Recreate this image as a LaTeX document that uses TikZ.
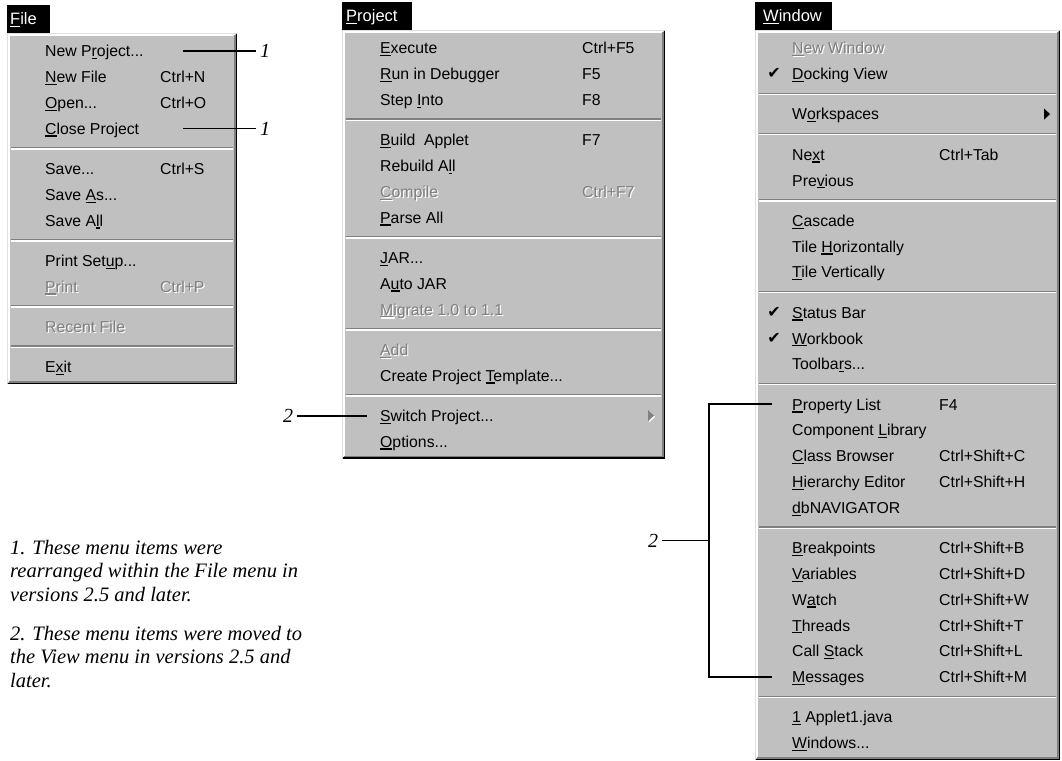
\documentclass[tikz,border=0pt]{standalone}
\usepackage{fontspec}
\setmainfont{Liberation Sans}
\newfontfamily\notefont{Liberation Serif}
\newfontfamily\symfont{DejaVu Sans}
\newcommand{\mnem}[1]{\setbox0\hbox{#1}\rlap{\rule[-2.4pt]{\wd0}{1.2pt}}#1}
\definecolor{menugray}{HTML}{C0C0C0}
\definecolor{shadowgray}{HTML}{808080}
\definecolor{lightedge}{HTML}{DFDFDF}
\tikzset{
  item/.style={anchor=base west, inner sep=0pt, yshift=-5.8pt, font=\fontsize{15.8}{18}\selectfont},
  dimitem/.style={item, text=shadowgray},
  dimshadow/.style={item, text=white, xshift=1.2pt, yshift=-1.2pt},
  titletext/.style={item, text=white, font=\fontsize{16.5}{18}\selectfont},
  check/.style={inner sep=0pt, font=\symfont\fontsize{16}{16}\selectfont},
  calloutnum/.style={inner sep=0pt, inner xsep=4pt, font=\notefont\itshape\fontsize{20}{20}\selectfont},
  note/.style={anchor=base west, inner sep=0pt, font=\notefont\itshape\fontsize{20.5}{23}\selectfont},
  callout/.style={line width=1.8pt},
  edgelight/.style={draw=lightedge, line width=1.3pt},
  edgewhite/.style={draw=white, line width=1.3pt},
  edgedark/.style={draw=black, line width=1.3pt},
  edgemid/.style={draw=shadowgray, line width=1.3pt},
  sepdark/.style={draw=shadowgray, line width=1.3pt},
  seplight/.style={draw=white, line width=1.3pt}
}
\begin{document}
\begin{tikzpicture}[x=1pt, y=-1pt]
  \useasboundingbox (0,0) rectangle (1062,760);

  % File menu
  \fill (7,5) rectangle (50,33);
  \node[titletext] (filetitle) at (10,19) {\mnem{F}ile};
  \fill[menugray] (7,33) rectangle (237,384);
  \draw[edgelight] (7.65,383.35) |- (236.35,33.65);
  \draw[edgewhite] (8.95,382.05) |- (235.05,34.95);
  \draw[edgedark] (7.65,383.35) -| (236.35,33.65);
  \draw[edgemid] (8.95,382.05) -| (235.05,34.95);
  \node[item] (fnewproj) at (45,51) {New P\mnem{r}oject...};
  \node[item] (fnewfile) at (45,76.8) {\mnem{N}ew File};
  \node[item] (fnewfilekey) at (160,76.8) {Ctrl+N};
  \node[item] (fopen) at (45,102.6) {\mnem{O}pen...};
  \node[item] (fopenkey) at (160,102.6) {Ctrl+O};
  \node[item] (fclose) at (45,128.4) {\mnem{C}lose Project};
  \draw[sepdark] (11,147.8) -- (233,147.8);
  \draw[seplight] (11,149.1) -- (233,149.1);
  \node[item] (fsave) at (45,168.7) {Save...};
  \node[item] (fsavekey) at (160,168.7) {Ctrl+S};
  \node[item] (fsaveas) at (45,194.5) {Save \mnem{A}s...};
  \node[item] (fsaveall) at (45,220.3) {Save A\mnem{l}l};
  \draw[sepdark] (11,239.7) -- (233,239.7);
  \draw[seplight] (11,241) -- (233,241);
  \node[item] (fsetup) at (45,260.6) {Print Set\mnem{u}p...};
  \node[dimshadow] (fprints) at (45,286.4) {\mnem{P}rint};
  \node[dimitem] (fprint) at (45,286.4) {\mnem{P}rint};
  \node[dimshadow] (fprintkeys) at (160,286.4) {Ctrl+P};
  \node[dimitem] (fprintkey) at (160,286.4) {Ctrl+P};
  \draw[sepdark] (11,305.8) -- (233,305.8);
  \draw[seplight] (11,307.1) -- (233,307.1);
  \node[dimshadow] (frecents) at (45,326.7) {Recent File};
  \node[dimitem] (frecent) at (45,326.7) {Recent File};
  \draw[sepdark] (11,346.1) -- (233,346.1);
  \draw[seplight] (11,347.4) -- (233,347.4);
  \node[item] (fexit) at (45,367) {E\mnem{x}it};

  % Project menu
  \fill (342,2) rectangle (412,30);
  \node[titletext] (projtitle) at (346,16) {\mnem{P}roject};
  \fill[menugray] (342,30) rectangle (665,458.5);
  \draw[edgelight] (342.65,457.85) |- (664.35,30.65);
  \draw[edgewhite] (343.95,456.55) |- (663.05,31.95);
  \draw[edgedark] (342.65,457.85) -| (664.35,30.65);
  \draw[edgemid] (343.95,456.55) -| (663.05,31.95);
  \node[item] (pexec) at (380,48) {\mnem{E}xecute};
  \node[item] (pexeckey) at (582,48) {Ctrl+F5};
  \node[item] (prun) at (380,73.8) {\mnem{R}un in Debugger};
  \node[item] (prunkey) at (582,73.8) {F5};
  \node[item] (pstep) at (380,99.6) {Step \mnem{I}nto};
  \node[item] (pstepkey) at (582,99.6) {F8};
  \draw[sepdark] (346,119) -- (661,119);
  \draw[seplight] (346,120.3) -- (661,120.3);
  \node[item] (pbuild) at (380,139.9) {\mnem{B}uild~~Applet};
  \node[item] (pbuildkey) at (582,139.9) {F7};
  \node[item] (prebuild) at (380,165.7) {Rebuild A\mnem{l}l};
  \node[dimshadow] (pcompiles) at (380,191.5) {\mnem{C}ompile};
  \node[dimitem] (pcompile) at (380,191.5) {\mnem{C}ompile};
  \node[dimshadow] (pcompilekeys) at (582,191.5) {Ctrl+F7};
  \node[dimitem] (pcompilekey) at (582,191.5) {Ctrl+F7};
  \node[item] (pparse) at (380,217.3) {\mnem{P}arse All};
  \draw[sepdark] (346,236.7) -- (661,236.7);
  \draw[seplight] (346,238) -- (661,238);
  \node[item] (pjar) at (380,257.6) {\mnem{J}AR...};
  \node[item] (pautojar) at (380,283.4) {A\mnem{u}to JAR};
  \node[dimshadow] (pmigrates) at (380,309.2) {\mnem{M}igrate 1.0 to 1.1};
  \node[dimitem] (pmigrate) at (380,309.2) {\mnem{M}igrate 1.0 to 1.1};
  \draw[sepdark] (346,328.6) -- (661,328.6);
  \draw[seplight] (346,329.9) -- (661,329.9);
  \node[dimshadow] (padds) at (380,349.5) {\mnem{A}dd};
  \node[dimitem] (padd) at (380,349.5) {\mnem{A}dd};
  \node[item] (ptemplate) at (380,375.3) {Create Project \mnem{T}emplate...};
  \draw[sepdark] (346,394.7) -- (661,394.7);
  \draw[seplight] (346,396) -- (661,396);
  \node[item] (pswitch) at (380,415.6) {\mnem{S}witch Project...};
  \fill[white] (649.2,411.2) -- (655.2,416.8) -- (649.2,422.4) -- cycle;
  \fill[shadowgray] (648,410) -- (654,415.6) -- (648,421.2) -- cycle;
  \node[item] (poptions) at (380,441.4) {\mnem{O}ptions...};

  % Window menu
  \fill (755,2) rectangle (832,30);
  \node[titletext] (wintitle) at (763,16) {\mnem{W}indow};
  \fill[menugray] (755,30) rectangle (1060,760);
  \draw[edgelight] (755.65,759.35) |- (1059.35,30.65);
  \draw[edgewhite] (756.95,758.05) |- (1058.05,31.95);
  \draw[edgedark] (755.65,759.35) -| (1059.35,30.65);
  \draw[edgemid] (756.95,758.05) -| (1058.05,31.95);
  \node[dimshadow] (wnews) at (792,48) {\mnem{N}ew Window};
  \node[dimitem] (wnew) at (792,48) {\mnem{N}ew Window};
  \node[check] (wdockchk) at (774,73.8) {✔};
  \node[item] (wdock) at (792,73.8) {\mnem{D}ocking View};
  \draw[sepdark] (759,93.2) -- (1056,93.2);
  \draw[seplight] (759,94.5) -- (1056,94.5);
  \node[item] (wspaces) at (792,114.1) {W\mnem{o}rkspaces};
  \fill (1044,108.5) -- (1050,114.1) -- (1044,119.7) -- cycle;
  \draw[sepdark] (759,133.5) -- (1056,133.5);
  \draw[seplight] (759,134.8) -- (1056,134.8);
  \node[item] (wnext) at (792,154.4) {Ne\mnem{x}t};
  \node[item] (wnextkey) at (939,154.4) {Ctrl+Tab};
  \node[item] (wprev) at (792,180.2) {Pre\mnem{v}ious};
  \draw[sepdark] (759,199.6) -- (1056,199.6);
  \draw[seplight] (759,200.9) -- (1056,200.9);
  \node[item] (wcascade) at (792,220.5) {\mnem{C}ascade};
  \node[item] (wtileh) at (792,246.3) {Tile \mnem{H}orizontally};
  \node[item] (wtilev) at (792,272.1) {\mnem{T}ile Vertically};
  \draw[sepdark] (759,291.5) -- (1056,291.5);
  \draw[seplight] (759,292.8) -- (1056,292.8);
  \node[check] (wstatuschk) at (774,312.4) {✔};
  \node[item] (wstatus) at (792,312.4) {\mnem{S}tatus Bar};
  \node[check] (wbookchk) at (774,338.2) {✔};
  \node[item] (wbook) at (792,338.2) {\mnem{W}orkbook};
  \node[item] (wtoolbars) at (792,364) {Toolba\mnem{r}s...};
  \draw[sepdark] (759,383.4) -- (1056,383.4);
  \draw[seplight] (759,384.7) -- (1056,384.7);
  \node[item] (wprop) at (792,404.3) {\mnem{P}roperty List};
  \node[item] (wpropkey) at (939,404.3) {F4};
  \node[item] (wcomplib) at (792,430.1) {Component \mnem{L}ibrary};
  \node[item] (wclass) at (792,455.9) {\mnem{C}lass Browser};
  \node[item] (wclasskey) at (939,455.9) {Ctrl+Shift+C};
  \node[item] (whier) at (792,481.7) {\mnem{H}ierarchy Editor};
  \node[item] (whierkey) at (939,481.7) {Ctrl+Shift+H};
  \node[item] (wdbnav) at (792,507.5) {\mnem{d}bNAVIGATOR};
  \draw[sepdark] (759,526.9) -- (1056,526.9);
  \draw[seplight] (759,528.2) -- (1056,528.2);
  \node[item] (wbreak) at (792,547.8) {\mnem{B}reakpoints};
  \node[item] (wbreakkey) at (939,547.8) {Ctrl+Shift+B};
  \node[item] (wvars) at (792,573.6) {\mnem{V}ariables};
  \node[item] (wvarskey) at (939,573.6) {Ctrl+Shift+D};
  \node[item] (wwatch) at (792,599.4) {W\mnem{a}tch};
  \node[item] (wwatchkey) at (939,599.4) {Ctrl+Shift+W};
  \node[item] (wthreads) at (792,625.2) {\mnem{T}hreads};
  \node[item] (wthreadskey) at (939,625.2) {Ctrl+Shift+T};
  \node[item] (wstack) at (792,651) {Call \mnem{S}tack};
  \node[item] (wstackkey) at (939,651) {Ctrl+Shift+L};
  \node[item] (wmsgs) at (792,676.8) {\mnem{M}essages};
  \node[item] (wmsgskey) at (939,676.8) {Ctrl+Shift+M};
  \draw[sepdark] (759,696.2) -- (1056,696.2);
  \draw[seplight] (759,697.5) -- (1056,697.5);
  \node[item] (wapplet) at (792,717.1) {\mnem{1} Applet1.java};
  \node[item] (wwindows) at (792,742.9) {\mnem{W}indows...};

  % callouts
  \node[calloutnum] (fnuma) at (265,51) {1};
  \node[calloutnum] (fnumb) at (265,128.4) {1};
  \coordinate (fnewprojend) at (183,51);
  \coordinate (fcloseend) at (183,128.4);
  \draw[callout] (fnewprojend) -- (fnuma.west);
  \draw[callout] (fcloseend) -- (fnumb.west);
  \node[calloutnum] (pnum) at (288,415.6) {2};
  \coordinate (pswitchend) at (367,415.6);
  \draw[callout] (pnum.east) -- (pswitchend);
  \node[calloutnum] (wnum) at (653,540.5) {2};
  \coordinate (wbrace) at (709,540.5);
  \coordinate (wpropend) at (772,404.3);
  \coordinate (wmsgsend) at (772,676.8);
  \draw[callout] (wnum.east) -- (wbrace);
  \draw[callout] (wpropend) -| (wbrace) |- (wmsgsend);

  % notes
  \node[note] (noteonea) at (10,554) {1. These menu items were};
  \node[note] (noteoneb) at (10,577.5) {rearranged within the File menu in};
  \node[note] (noteonec) at (10,601) {versions 2.5 and later.};
  \node[note] (notetwoa) at (10,640) {2. These menu items were moved to};
  \node[note] (notetwob) at (10,663.5) {the View menu in versions 2.5 and};
  \node[note] (notetwoc) at (10,687) {later.};
\end{tikzpicture}
\end{document}
